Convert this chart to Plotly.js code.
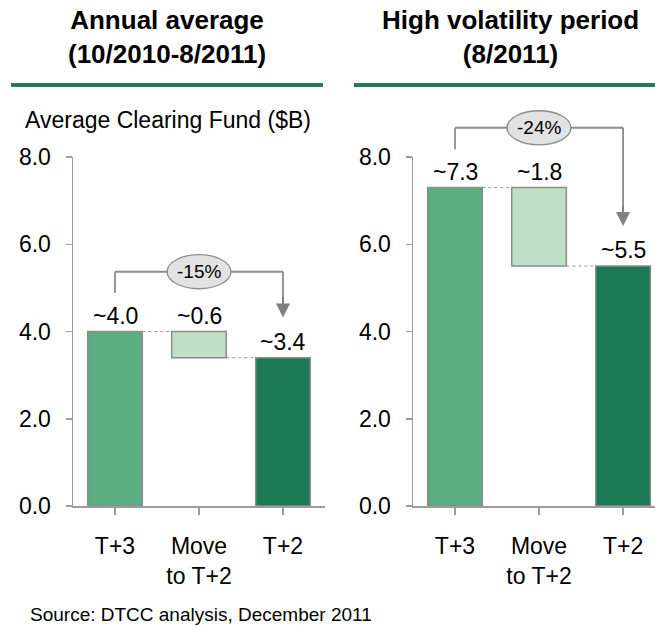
<!DOCTYPE html>
<html>
<head>
<meta charset="utf-8">
<script src="https://cdn.plot.ly/plotly-3.0.1.min.js"></script>
<style>html,body{margin:0;padding:0;background:#fff;}#chart{width:655px;height:626px;}</style>
</head>
<body>
<div id="chart"></div>
<script>
// ---- data ----
const categories = ['T+3', 'Move<br>to T+2', 'T+2'];
const annualValues = [4.0, 0.6, 3.4];      // start, reduction, end
const volatileValues = [7.3, 1.8, 5.5];
const annualLabels = ['~4.0', '~0.6', '~3.4'];
const volatileLabels = ['~7.3', '~1.8', '~5.5'];
const changeLabels = ['-15%', '-24%'];
const panelTitles = ['<b>Annual average<br>(10/2010-8/2011)</b>', '<b>High volatility period<br>(8/2011)</b>'];
const yAxisLabel = 'Average Clearing Fund ($B)';
const sourceNote = 'Source: DTCC analysis, December 2011';
const yTicks = [0, 2, 4, 6, 8];

// ---- styles ----
const FONT = 'Liberation Sans, Arial, sans-serif';
const barColors = ['#5aae82', '#bfe0c7', '#1b7955'];
const GRAY = '#8c8c8c';
const AXIS = '#9c9c9c';
const GREEN_RULE = '#2a7a5a';
const yMax = 8;
const barW = 0.65;

function bars(vals, xa, ya) {
  return {
    type: 'bar', x: [0, 1, 2],
    y: [vals[0], vals[1], vals[2]],
    base: [0, vals[0] - vals[1], 0],
    width: barW,
    marker: {color: barColors, line: {color: GRAY, width: 1.5}},
    xaxis: xa, yaxis: ya, hoverinfo: 'none', showlegend: false
  };
}

const data = [bars(annualValues, 'x', 'y'), bars(volatileValues, 'x2', 'y2')];

const shapes = [];
const annotations = [];

function panelDecor(vals, labels, pct, xr, yr) {
  const yd = v => v / yMax;
  const ydRef = yr + ' domain';
  const h = barW / 2;
  // dotted connectors
  shapes.push({type: 'line', xref: xr, yref: yr, x0: h, x1: 1 - h, y0: vals[0], y1: vals[0],
    line: {color: '#9a9a9a', width: 1, dash: 'dot'}});
  shapes.push({type: 'line', xref: xr, yref: yr, x0: 1 + h, x1: 2 - h, y0: vals[2], y1: vals[2],
    line: {color: '#9a9a9a', width: 1, dash: 'dot'}});
  // value labels
  const tops = [vals[0], vals[0], vals[2]];
  for (let i = 0; i < 3; i++) {
    annotations.push({xref: xr, yref: yr, x: i, y: tops[i], yanchor: 'bottom', yshift: 1,
      text: labels[i], showarrow: false, font: {family: FONT, size: 23, color: '#000'}});
  }
  // bracket
  const start = vals[0] + 0.88;
  const level = start + 0.49;
  const tip = vals[2] + 0.92;
  const lineStyle = {color: GRAY, width: 1.8};
  shapes.push({type: 'line', xref: xr, yref: ydRef, x0: 0, x1: 0, y0: yd(start), y1: yd(level), line: lineStyle});
  shapes.push({type: 'line', xref: xr, yref: ydRef, x0: 0, x1: 2, y0: yd(level), y1: yd(level), line: lineStyle});
  shapes.push({type: 'line', xref: xr, yref: ydRef, x0: 2, x1: 2, y0: yd(level), y1: yd(tip + 0.25), line: lineStyle});
  shapes.push({type: 'circle', xref: xr, yref: ydRef, x0: 1 - 0.38, x1: 1 + 0.38,
    y0: yd(level - 0.39), y1: yd(level + 0.39), fillcolor: '#e2e2e2', line: {color: GRAY, width: 1.3}});
  annotations.push({xref: xr, yref: ydRef, x: 1, y: yd(level), xanchor: 'center', yanchor: 'middle',
    text: pct, showarrow: false, font: {family: FONT, size: 19, color: '#000'}});
  annotations.push({xref: xr, yref: yr, x: 2, y: tip, text: '', showarrow: true,
    arrowhead: 2, arrowsize: 1.4, arrowwidth: 2, arrowcolor: '#808080', ax: 0, ay: -22, standoff: 0});
}

panelDecor(annualValues, annualLabels, changeLabels[0], 'x', 'y');
panelDecor(volatileValues, volatileLabels, changeLabels[1], 'x2', 'y2');

// header titles and rules
annotations.push({xref: 'paper', yref: 'paper', x: 167 / 655, y: 1 - 3 / 626, xanchor: 'center', yanchor: 'top',
  text: panelTitles[0], showarrow: false, font: {family: FONT, size: 26, color: '#000'}});
annotations.push({xref: 'paper', yref: 'paper', x: 510 / 655, y: 1 - 3 / 626, xanchor: 'center', yanchor: 'top',
  text: panelTitles[1], showarrow: false, font: {family: FONT, size: 26, color: '#000'}});
shapes.push({type: 'line', xref: 'paper', yref: 'paper', x0: 11 / 655, x1: 323 / 655, y0: 1 - 85 / 626, y1: 1 - 85 / 626,
  line: {color: GREEN_RULE, width: 4}});
shapes.push({type: 'line', xref: 'paper', yref: 'paper', x0: 354 / 655, x1: 1, y0: 1 - 85 / 626, y1: 1 - 85 / 626,
  line: {color: GREEN_RULE, width: 4}});
annotations.push({xref: 'paper', yref: 'paper', x: 23 / 655, y: 1 - 120 / 626, xanchor: 'left', yanchor: 'middle',
  text: yAxisLabel, showarrow: false, font: {family: FONT, size: 23, color: '#000'}});
annotations.push({xref: 'paper', yref: 'paper', x: 28 / 655, y: 1 - 614 / 626, xanchor: 'left', yanchor: 'middle',
  text: sourceNote, showarrow: false, font: {family: FONT, size: 19, color: '#000'}});

const yDom = [120 / 626, 469 / 626];
function xAxis(domain, range, anchor) {
  return {domain: domain, range: range, anchor: anchor, tickmode: 'array', tickvals: [0, 1, 2], ticktext: categories,
    tickson: 'boundaries', ticks: 'outside', ticklen: 7, tickwidth: 1.5, tickcolor: AXIS,
    showline: true, linecolor: AXIS, linewidth: 1.5, showgrid: false, zeroline: false, fixedrange: true,
    ticklabelstandoff: 12, tickfont: {family: FONT, size: 23, color: '#000'}};
}
function yAxis(anchor) {
  return {domain: yDom, range: [0, yMax], anchor: anchor, tickmode: 'array', tickvals: yTicks,
    ticktext: yTicks.map(v => v.toFixed(1)), ticks: 'outside', ticklen: 6, tickwidth: 1.5, tickcolor: AXIS,
    showline: true, linecolor: AXIS, linewidth: 1.5, showgrid: false, zeroline: false, fixedrange: true,
    ticklabelstandoff: 10, tickfont: {family: FONT, size: 23, color: '#000'}};
}

const layout = {
  width: 655, height: 626,
  margin: {l: 0, r: 0, t: 0, b: 0},
  paper_bgcolor: '#fff', plot_bgcolor: 'rgba(0,0,0,0)',
  font: {family: FONT, color: '#000'},
  showlegend: false,
  xaxis: xAxis([73 / 655, 325 / 655], [-0.5, 2.5], 'y'),
  yaxis: yAxis('x'),
  xaxis2: xAxis([413 / 655, 1], [-0.5, 2.38], 'y2'),
  yaxis2: yAxis('x2'),
  shapes: shapes,
  annotations: annotations
};

Plotly.newPlot('chart', data, layout, {staticPlot: true, displayModeBar: false});
</script>
</body>
</html>
